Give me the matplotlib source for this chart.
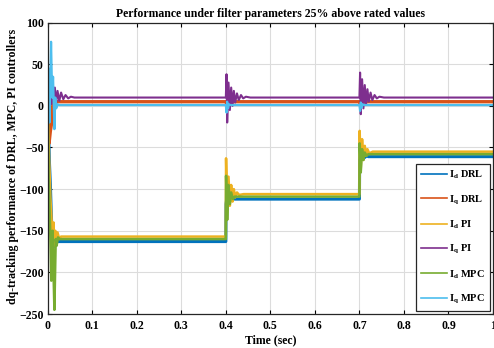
import matplotlib
matplotlib.use("Agg")
import matplotlib.pyplot as plt

# Values (time in s, current in A)
id_drl_t = [0, 0.002, 0.004, 0.006, 0.008, 0.010, 0.012, 0.014, 0.016, 0.018, 0.020, 0.022,
            0.4, 0.4005, 0.403, 0.406, 0.409, 0.412, 0.416, 0.42,
            0.7, 0.7005, 0.703, 0.706, 0.709, 0.712, 0.716, 0.72, 1.0]
id_drl_v = [0, -30, -70, -95, -130, -155, -170, -160, -166, -161, -164, -163,
            -163, -118, -108, -115, -110, -113, -111, -112,
            -112, -65, -57, -63, -59, -62, -60, -61, -61]

iq_drl_t = [0, 0.003, 0.006, 0.009, 0.012, 0.015, 0.4, 0.402, 0.404, 0.7, 0.702, 0.704, 1.0]
iq_drl_v = [0, -45, -30, -20, 6, 5, 5, 2, 5, 5, 2, 5, 5]

id_pi_t = [0, 0.003, 0.006, 0.009, 0.011, 0.013, 0.015, 0.017, 0.019, 0.022, 0.026, 0.03,
           0.4, 0.4005, 0.403, 0.406, 0.409, 0.412, 0.415, 0.418, 0.421, 0.425, 0.43, 0.44,
           0.7, 0.7005, 0.703, 0.706, 0.709, 0.712, 0.715, 0.718, 0.722, 0.73, 1.0]
id_pi_v = [0, -60, -110, -140, -170, -140, -168, -150, -162, -152, -160, -157,
           -157, -63, -125, -85, -120, -95, -115, -100, -110, -104, -107, -106,
           -106, -30, -75, -40, -65, -48, -60, -52, -57, -55, -55]

iq_pi_t = [0, 0.002, 0.004, 0.006, 0.008, 0.010, 0.013, 0.016, 0.019, 0.022, 0.026, 0.030,
           0.035, 0.040, 0.046, 0.052, 0.06,
           0.4, 0.4015, 0.403, 0.406, 0.409, 0.412, 0.415, 0.418, 0.421, 0.425, 0.429, 0.434,
           0.439, 0.445, 0.455,
           0.7, 0.7015, 0.703, 0.706, 0.709, 0.712, 0.715, 0.718, 0.721, 0.725, 0.729, 0.734,
           0.739, 0.745, 0.755, 1.0]
iq_pi_v = [48, 30, 0, 15, 2, 20, 5, 22, 3, 18, 6, 16,
           8, 13, 9, 11, 10,
           10, 38, -20, 28, -5, 22, 0, 18, 4, 15, 7, 13,
           9, 11, 10,
           10, 40, -10, 32, -3, 25, 2, 20, 5, 16, 7, 13,
           9, 11, 10, 10]

id_mpc_t = [0, 0.002, 0.004, 0.006, 0.008, 0.011, 0.013, 0.015, 0.018, 0.020, 0.023, 0.027,
            0.4, 0.4005, 0.403, 0.406, 0.409, 0.412, 0.416, 0.42,
            0.7, 0.7005, 0.703, 0.706, 0.709, 0.712, 0.716, 0.72, 1.0]
id_mpc_v = [0, -85, -120, -160, -210, -150, -200, -245, -160, -168, -158, -160,
            -160, -84, -137, -95, -118, -104, -112, -109,
            -109, -45, -80, -52, -65, -56, -60, -58, -58]

iq_mpc_t = [0, 0.002, 0.004, 0.0075, 0.010, 0.012, 0.015, 0.017, 0.019, 0.022, 0.025,
            0.4, 0.4015, 0.403, 0.405, 0.407, 0.41,
            0.7, 0.7015, 0.703, 0.705, 0.707, 0.71, 1.0]
iq_mpc_v = [0, 45, -20, 77, 10, 35, -28, 10, -3, 2, 1,
            1, -8, 5, -3, 2, 1,
            1, -6, 4, -2, 2, 1, 1]

series = [
    ("I$_\\mathrm{d}$ DRL", id_drl_t, id_drl_v, "#0072BD", 2.2),
    ("I$_\\mathrm{q}$ DRL", iq_drl_t, iq_drl_v, "#D95319", 2.4),
    ("I$_\\mathrm{d}$ PI", id_pi_t, id_pi_v, "#EDB120", 1.8),
    ("I$_\\mathrm{q}$ PI", iq_pi_t, iq_pi_v, "#7E2F8E", 1.5),
    ("I$_\\mathrm{d}$ MPC", id_mpc_t, id_mpc_v, "#77AC30", 1.8),
    ("I$_\\mathrm{q}$ MPC", iq_mpc_t, iq_mpc_v, "#4DBEEE", 1.6),
]

plt.rcParams["font.family"] = ["Liberation Serif", "DejaVu Serif"]
plt.rcParams["font.weight"] = "bold"
plt.rcParams["mathtext.fontset"] = "custom"
plt.rcParams["mathtext.rm"] = "Liberation Serif:bold"
plt.rcParams["mathtext.it"] = "Liberation Serif:bold"

fig = plt.figure(figsize=(4.94, 3.48), dpi=100)
ax = fig.add_axes([0.0966, 0.0977, 0.9014, 0.8373])

for label, t, v, color, lw in series:
    ax.plot(t, v, color=color, linewidth=lw, label=label)

ax.set_xlim(0, 1)
ax.set_ylim(-250, 100)
ax.set_xticks([0, 0.1, 0.2, 0.3, 0.4, 0.5, 0.6, 0.7, 0.8, 0.9, 1])
ax.set_xticklabels(["0", "0.1", "0.2", "0.3", "0.4", "0.5", "0.6", "0.7", "0.8", "0.9", "1"])
ax.set_yticks([-250, -200, -150, -100, -50, 0, 50, 100])
ax.grid(color="#dcdcdc", linewidth=0.8)
ax.set_axisbelow(True)
ax.tick_params(direction="in", top=True, right=True, labelsize=8.5, length=3, width=0.8)
ax.tick_params(axis="x", pad=4)
ax.tick_params(axis="y", pad=3)
for lbl in ax.get_xticklabels() + ax.get_yticklabels():
    lbl.set_fontweight("bold")
for spine in ax.spines.values():
    spine.set_color("#262626")
    spine.set_linewidth(0.9)

ax.set_title("Performance under filter parameters 25% above rated values",
             fontsize=8.5, fontweight="bold", pad=4)
ax.set_xlabel("Time (sec)", fontsize=8.5, fontweight="bold", labelpad=2)
ax.set_ylabel("dq-tracking performance of DRL, MPC, PI controllers",
              fontsize=8.5, fontweight="bold")
ax.yaxis.set_label_coords(-0.064, 0.505)

leg = ax.legend(loc="lower right", fontsize=7.5, frameon=True, fancybox=False,
                edgecolor="#262626", framealpha=1, handlelength=2.5, handletextpad=0.2,
                labelspacing=1.15, borderaxespad=0.3, borderpad=0.5)
leg.get_frame().set_linewidth(0.9)
for line in leg.get_lines():
    line.set_linewidth(1.2)

fig.savefig("out.png", dpi=100)
